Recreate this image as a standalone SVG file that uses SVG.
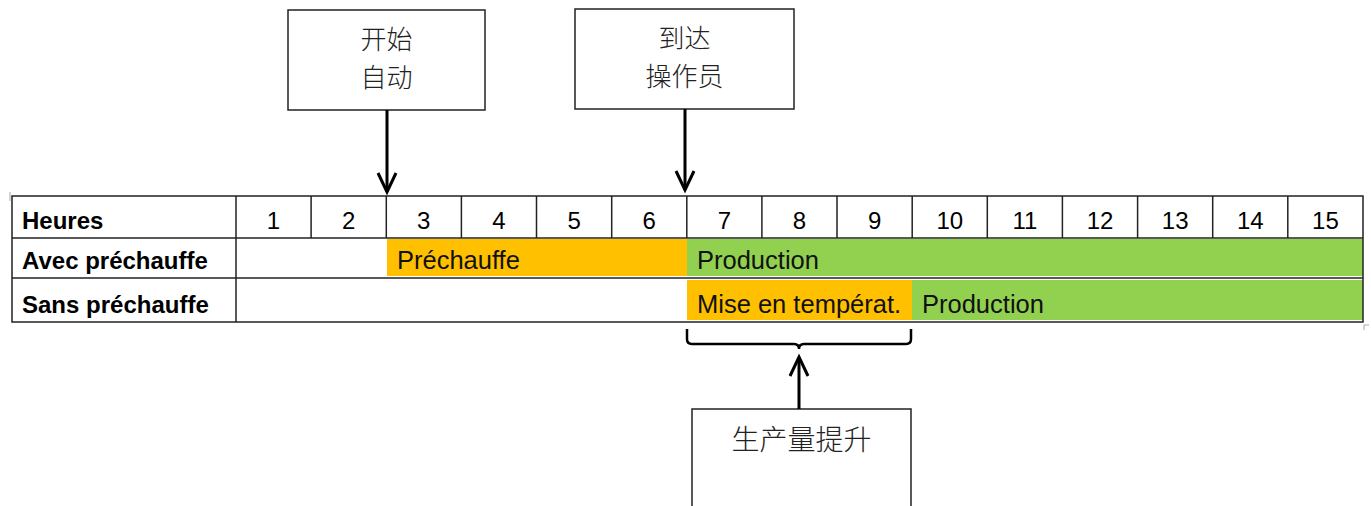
<svg xmlns="http://www.w3.org/2000/svg" width="1371" height="506" viewBox="0 0 1371 506">
<style>
.box{fill:#fff;stroke:#222;stroke-width:1.5}
.cjk{font-family:"Noto Sans CJK SC","Noto Sans",sans-serif;font-size:26px;fill:#222;text-anchor:middle;font-weight:300}
.big{font-size:28px}
.lbl{font-family:"Liberation Sans",Arial,sans-serif;font-size:24px;font-weight:bold;fill:#000}
.num{font-family:"Liberation Sans",Arial,sans-serif;font-size:24px;fill:#000;text-anchor:middle}
.bar{font-family:"Liberation Sans",Arial,sans-serif;font-size:25.5px;fill:#111}
.grid{stroke:#222;stroke-width:1.5;fill:none}
.conn{stroke:#000;stroke-width:3;fill:none}
.orange{fill:#FFC000}
.green{fill:#92D050}
</style>
<defs>
<marker id="arr" markerUnits="userSpaceOnUse" markerWidth="30" markerHeight="30" refX="0" refY="0" orient="auto" overflow="visible">
<path d="M-19,-9 L0,0 L-19,9" fill="none" stroke="#000" stroke-width="3" stroke-linejoin="miter"/>
</marker>
</defs>

<g id="table">
<rect class="orange" x="387" y="239" width="300" height="37"/>
<rect class="green" x="687" y="239" width="676" height="37"/>
<rect class="orange" x="687" y="280" width="225" height="40"/>
<rect class="green" x="912" y="280" width="451" height="40"/>
<rect class="grid" x="12" y="196" width="1351" height="126"/>
<line class="grid" x1="12" y1="238" x2="1363" y2="238"/>
<line class="grid" x1="12" y1="278" x2="1363" y2="278"/>
<line class="grid" x1="236" y1="196" x2="236" y2="322"/>
<path class="grid" d="M311.1,196V238M386.3,196V238M461.4,196V238M536.5,196V238M611.7,196V238M686.8,196V238M761.9,196V238M837,196V238M912.2,196V238M987.3,196V238M1062.4,196V238M1137.6,196V238M1212.7,196V238M1287.8,196V238"/>
<path d="M10,192V201M1364,325H1369M1364,325V330" stroke="#aaa" stroke-width="1" fill="none"/>
<text class="lbl" x="22" y="229">Heures</text>
<text class="lbl" x="22" y="269">Avec préchauffe</text>
<text class="lbl" x="22" y="313">Sans préchauffe</text>
<text class="num" x="273.5" y="229">1</text>
<text class="num" x="348.7" y="229">2</text>
<text class="num" x="423.8" y="229">3</text>
<text class="num" x="499" y="229">4</text>
<text class="num" x="574.1" y="229">5</text>
<text class="num" x="649.2" y="229">6</text>
<text class="num" x="724.4" y="229">7</text>
<text class="num" x="799.5" y="229">8</text>
<text class="num" x="874.6" y="229">9</text>
<text class="num" x="949.8" y="229">10</text>
<text class="num" x="1024.9" y="229">11</text>
<text class="num" x="1100" y="229">12</text>
<text class="num" x="1175.2" y="229">13</text>
<text class="num" x="1250.3" y="229">14</text>
<text class="num" x="1325.4" y="229">15</text>
<text class="bar" x="397" y="269">Préchauffe</text>
<text class="bar" x="697" y="269">Production</text>
<text class="bar" x="697" y="313">Mise en températ.</text>
<text class="bar" x="922" y="313">Production</text>
</g>

<g id="node-start">
<rect class="box" x="288" y="10" width="197" height="100"/>
<text class="cjk" x="386.5" y="49">开始</text>
<text class="cjk" x="386.5" y="87">自动</text>
</g>

<g id="node-operator">
<rect class="box" x="575" y="9" width="219" height="100"/>
<text class="cjk" x="684.5" y="48">到达</text>
<text class="cjk" x="684.5" y="86">操作员</text>
</g>

<g id="node-gain">
<rect class="box" x="692" y="409" width="219" height="110"/>
<text class="cjk big" x="801.5" y="450">生产量提升</text>
</g>

<g id="connectors">
<line class="conn" x1="387" y1="110" x2="387" y2="192" marker-end="url(#arr)"/>
<line class="conn" x1="685" y1="109" x2="685" y2="190" marker-end="url(#arr)"/>
<path d="M687,329 L687,339 Q687,344 692,344 L794,344 Q799,344 799,349 Q799,344 804,344 L906,344 Q911,344 911,339 L911,329" fill="none" stroke="#000" stroke-width="2.5"/>
<line class="conn" x1="799" y1="409" x2="799" y2="357" marker-end="url(#arr)"/>
</g>
</svg>
